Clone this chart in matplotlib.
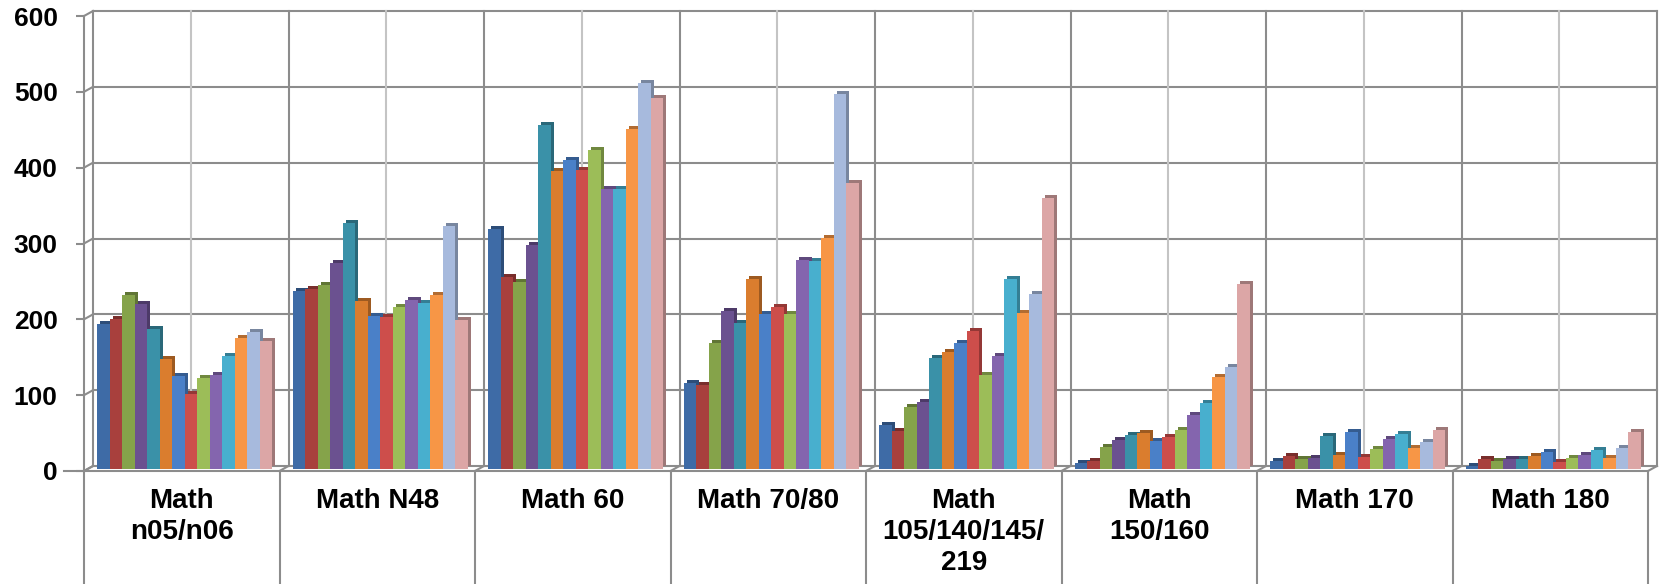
import numpy as np
import matplotlib
matplotlib.use("Agg")
import matplotlib.pyplot as plt
from matplotlib.transforms import ScaledTranslation, IdentityTransform

# category labels (table cells below the plot)
categories = ["Math\nn05/n06", "Math N48", "Math 60", "Math 70/80",
              "Math\n105/140/145/\n219", "Math\n150/160", "Math 170", "Math 180"]

# 14 series per category
math_n05_n06 = [191, 198, 229, 217, 184, 145, 122, 99, 120, 124, 149, 173, 181, 169]
math_n48 = [235, 238, 243, 272, 324, 221, 202, 200, 213, 223, 219, 229, 321, 197]
math_60 = [316, 253, 246, 296, 454, 393, 408, 394, 421, 369, 369, 449, 509, 489]
math_70_80 = [113, 111, 166, 209, 193, 250, 205, 213, 205, 275, 274, 304, 494, 377]
math_105_219 = [58, 50, 82, 89, 146, 154, 166, 182, 124, 149, 250, 206, 231, 357]
math_150_160 = [8, 11, 29, 38, 45, 47, 37, 42, 52, 71, 87, 121, 134, 244]
math_170 = [10, 17, 13, 14, 43, 18, 49, 16, 27, 40, 46, 28, 36, 52]
math_180 = [4, 13, 10, 13, 13, 17, 23, 9, 15, 18, 25, 15, 28, 49]

y_ticks = [0, 100, 200, 300, 400, 500, 600]

series_colors = ['#3E6BA6', '#A8403D', '#85A34A', '#6B5190', '#3A91A8', '#DA7D2E', '#4A80C8',
                 '#CD4E4B', '#9CBD58', '#8465AE', '#48AFCE', '#F79646', '#A7BADD', '#DCA6A6']

values = np.array([math_n05_n06, math_n48, math_60, math_70_80,
                   math_105_219, math_150_160, math_170, math_180])
n_cat, n_ser = values.shape

plt.rcParams['font.family'] = ['Liberation Sans', 'DejaVu Sans']
plt.rcParams['font.weight'] = 'bold'

DPI = 100
fig = plt.figure(figsize=(16.6, 5.84), dpi=DPI)
# front frame of the 3d box
ax = fig.add_axes([84 / 1660, 113 / 584, 1564 / 1660, 455 / 584])
ax.set_xlim(-0.5, n_cat - 0.5)
ax.set_ylim(0, 600)


def shifted(dx, dy):
    # shift by pixels (dy up)
    return ax.transData + ScaledTranslation(dx / DPI, dy / DPI, fig.dpi_scale_trans)


grid_dark = '#8c8c8c'
grid_light = '#c4c4c4'
lw = 1.5

# back wall
back = shifted(9, 5)
for y in y_ticks:
    ax.plot([-0.5, n_cat - 0.5], [y, y], color=grid_dark, lw=lw, transform=back,
            clip_on=False, zorder=1)
for k in range(n_cat + 1):
    ax.plot([k - 0.5, k - 0.5], [0, 600], color=grid_dark, lw=lw, transform=back,
            clip_on=False, zorder=1)
for k in range(n_cat):
    ax.plot([k, k], [0, 600], color=grid_light, lw=lw, transform=back,
            clip_on=False, zorder=1)

# small diagonals from front axis / floor edge to back wall
corners = [(-0.5, y) for y in y_ticks] + [(k - 0.5, 0) for k in range(n_cat + 1)]
for pt in corners:
    p0 = ax.transData.transform(pt)
    line = plt.Line2D([p0[0], p0[0] + 9], [p0[1], p0[1] + 5], color=grid_dark, lw=lw)
    line.set_transform(IdentityTransform())
    fig.add_artist(line)

# front floor edge and table lines
ax.plot([-0.6, n_cat - 0.5], [0, 0], color=grid_dark, lw=lw, clip_on=False, zorder=5)
for k in range(n_cat + 1):
    ax.plot([k - 0.5, k - 0.5], [0, -160], color=grid_dark, lw=lw, clip_on=False, zorder=5)

# bars: darker copy behind gives the side/top face
width = 0.064
offsets = (np.arange(n_ser) - (n_ser - 1) / 2) * width
x = np.arange(n_cat)
face = shifted(3, 2)
side = shifted(6, 5)
for j in range(n_ser):
    dark = tuple(c * 0.72 for c in matplotlib.colors.to_rgb(series_colors[j]))
    ax.bar(x + offsets[j], values[:, j], width, color=dark, transform=side, zorder=2,
           linewidth=0)
for j in range(n_ser):
    ax.bar(x + offsets[j], values[:, j], width, color=series_colors[j], transform=face,
           zorder=3, linewidth=0)

# y axis
for s in ['top', 'right', 'bottom']:
    ax.spines[s].set_visible(False)
ax.spines['left'].set_color(grid_dark)
ax.spines['left'].set_linewidth(lw)
ax.set_yticks(y_ticks)
ax.set_yticklabels([str(t) for t in y_ticks], fontsize=19, fontweight='bold')
ax.tick_params(axis='y', direction='out', length=6, width=lw, color=grid_dark, pad=13)
ax.set_xticks([])
ax.patch.set_visible(False)

# category labels in the table cells
for k, label in enumerate(categories):
    ax.text(k, -22, label, ha='center', va='top', fontsize=20, fontweight='bold',
            linespacing=1.26, clip_on=False)

fig.savefig("out.png", dpi=DPI)
